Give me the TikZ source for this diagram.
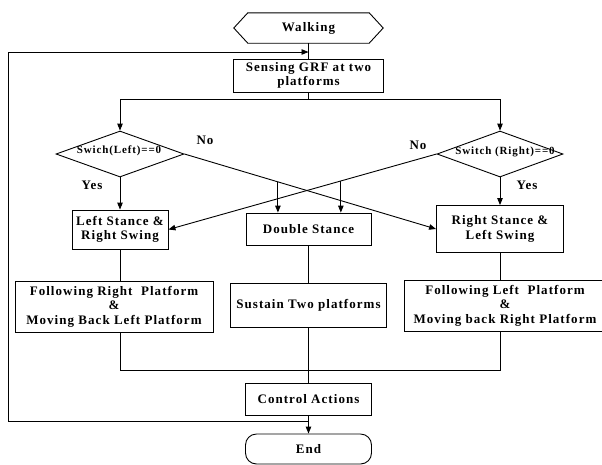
\documentclass[tikz,border=0pt]{standalone}
\usepackage{fontspec}
\setmainfont{Liberation Serif}[LetterSpace=8]
\usetikzlibrary{arrows.meta,shapes.geometric,calc}
\begin{document}
\begin{tikzpicture}[x=1pt,y=-1pt,
  every node/.style={font=\fontsize{13}{14.5}\selectfont\bfseries},
  box/.style={draw, line width=0.9pt, inner sep=0pt, align=center},
  conn/.style={line width=0.9pt},
  arr/.style={conn, -{Triangle[length=7pt,width=5.5pt]}},
  dec/.style={draw, diamond, line width=0.9pt, inner sep=0pt},
  dtext/.style={font=\fontsize{11}{12}\selectfont\bfseries, inner sep=0pt},
  lbl/.style={inner sep=0pt}]
\useasboundingbox (0,0) rectangle (602,464);
\fill[white] (0,0) rectangle (602,464);
% nodes
\node[minimum width=149pt, minimum height=30pt, inner sep=0pt] (walk) at (308.5,28) {Walking};
\draw[conn] (walk.west) -- ($(walk.north west)+(14,0)$) -- ($(walk.north east)+(-14,0)$) -- (walk.east) -- ($(walk.south east)+(-14,0)$) -- ($(walk.south west)+(14,0)$) -- cycle;
\node[box, minimum width=150pt, minimum height=33pt] (sense) at (308.5,75.5) {Sensing GRF at two\\platforms};
\node[dec, minimum width=128pt, minimum height=46pt] (dl) at (120,154) {};
\node[dtext] (dlt) at (119,151) {Swich(Left)==0};
\node[dec, minimum width=126pt, minimum height=46pt] (dr) at (500,154) {};
\node[dtext] (drt) at (505,152) {Switch (Right)==0};
\node[box, minimum width=96pt, minimum height=39pt] (ls) at (120,229.5) {Left Stance \&\\Right Swing};
\node[box, minimum width=125pt, minimum height=32pt] (ds) at (308.5,229) {Double Stance};
\node[box, minimum width=127pt, minimum height=47pt] (rs) at (500,229) {Right Stance \&\\Left Swing};
\node[box, minimum width=198pt, minimum height=51pt] (fr) at (114,306.5) {Following Right\ \ Platform\\\&\\Moving Back Left Platform};
\node[box, minimum width=156pt, minimum height=44pt] (st) at (308.5,305) {Sustain Two platforms};
\node[box, minimum width=202pt, minimum height=51pt] (fl) at (505,305.5) {Following Left\ \ Platform\\\&\\Moving back Right Platform};
\node[box, minimum width=126pt, minimum height=32pt] (ca) at (308.5,399) {Control Actions};
\node[box, rounded corners=11pt, minimum width=126pt, minimum height=30pt] (en) at (308.5,449) {End};
% labels
\node[lbl] (no1) at (205,140) {No};
\node[lbl] (no2) at (418,145) {No};
\node[lbl] (yes1) at (92,185) {Yes};
\node[lbl] (yes2) at (527,185) {Yes};
% connectors
\coordinate (join) at (308.5,52);
\draw[conn] (walk.south) -- (sense.north);
\coordinate (split) at (308.5,99);
\draw[conn] (sense.south) -- (split);
\draw[arr] (split) -| (dl.north);
\draw[arr] (split) -| (dr.north);
\draw[arr] (dl.south) -- (ls.north);
\draw[arr] (dr.south) -- (rs.north);
\draw[arr] (dl.east) -- (rs.west);
\draw[arr] (dr.west) -- (ls.east);
\coordinate (p1) at ($(dl.east)!0.3715!(rs.west)$);
\coordinate (p2) at ($(dr.west)!0.357!(ls.east)$);
\draw[arr] (p1) -- (p1 |- ds.north);
\draw[arr] (p2) -- (p2 |- ds.north);
\draw[conn] (ls.south) -- (ls.south |- fr.north);
\draw[conn] (ds.south) -- (st.north);
\draw[conn] (rs.south) -- (rs.south |- fl.north);
\coordinate (merge) at (308.5,370);
\draw[conn] (ls.south |- fr.south) -- (ls.south |- merge) -- (rs.south |- merge) -- (rs.south |- fl.south);
\draw[conn] (st.south) -- (ca.north);
\draw[arr] (ca.south) -- (en.north);
\coordinate (fb) at (308.5,421);
\coordinate (corner) at (8,52);
\draw[arr] (fb) -| (corner) -- (join);
\end{tikzpicture}
\end{document}
